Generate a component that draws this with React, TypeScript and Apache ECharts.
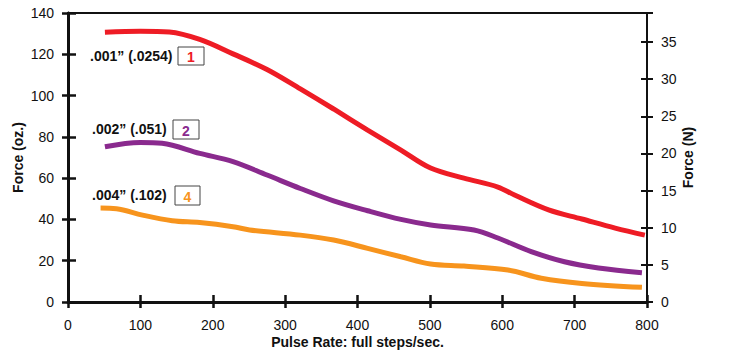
import React, { useEffect, useRef } from "react";
import * as echarts from "echarts";

const xTicks = [0, 100, 200, 300, 400, 500, 600, 700, 800];

const redX = [51, 100, 140, 182, 228, 275, 321, 367, 414, 460, 501, 547, 594, 617, 664, 710, 756, 797];
const redY = [130.7, 131.2, 130.8, 127.2, 120.2, 112.6, 103.2, 93.5, 83.3, 73.6, 64.9, 60, 55.7, 51.8, 44.6, 40.2, 35.8, 32.4];

const purpleX = [51, 100, 130, 182, 228, 275, 321, 367, 414, 460, 501, 561, 594, 640, 686, 733, 793];
const purpleY = [75.2, 77.3, 76.9, 72, 68, 61.5, 55, 49, 44.2, 40, 37.3, 34.9, 31, 24.4, 19.5, 16.5, 14.2];

const orangeX = [45, 67, 103, 144, 182, 228, 251, 321, 367, 414, 460, 501, 547, 608, 654, 710, 793];
const orangeY = [45.5, 45.2, 42.1, 39.4, 38.5, 36.5, 34.9, 32.4, 30, 26, 21.9, 18.4, 17.4, 15.5, 11.5, 9, 7.1];

const labels = [
  { text: ".001\u201D (.0254)", num: "1", color: "#ee1c25" },
  { text: ".002\u201D (.051)", num: "2", color: "#8a2a8e" },
  { text: ".004\u201D (.102)", num: "4", color: "#f7941d" },
];

const OZ_TO_N = 0.27801385;
const FONT = "'Liberation Sans', Arial, Helvetica, sans-serif";

function pairs(xs: number[], ys: number[]) {
  return xs.map((x, i) => [x, ys[i]]);
}

export default function App() {
  const ref = useRef<HTMLDivElement>(null);
  useEffect(() => {
    if (!ref.current) return;
    const chart = echarts.init(ref.current, null, { renderer: "svg" });
    const axisColor = "#111";
    const labelStyle = { color: "#111", fontSize: 14, fontFamily: FONT };
    const nameStyle = { color: "#111", fontSize: 14, fontWeight: "bold" as const, fontFamily: FONT };

    const lineSeries = (data: number[][], color: string) => ({
      type: "line",
      data,
      smooth: 0.35,
      showSymbol: false,
      symbol: "none",
      lineStyle: { color, width: 5, cap: "butt" },
      xAxisIndex: 0,
      yAxisIndex: 0,
      z: 3,
    });

    const labelPos = [
      { tx: 90, ty: 56, bx: 178, by: 47, bw: 26, bh: 18 },
      { tx: 92, ty: 129, bx: 173, by: 120, bw: 26, bh: 19 },
      { tx: 92, ty: 195, bx: 175, by: 186, bw: 25, bh: 19 },
    ];

    const graphics: any[] = [];
    labels.forEach((l, i) => {
      const p = labelPos[i];
      graphics.push({
        type: "text",
        x: p.tx,
        y: p.ty,
        style: {
          text: l.text,
          fill: "#111",
          font: `bold 14px ${FONT}`,
          verticalAlign: "middle",
          align: "left",
        },
      });
      graphics.push({
        type: "rect",
        shape: { x: p.bx, y: p.by, width: p.bw, height: p.bh },
        style: { fill: "#fff", stroke: "#444", lineWidth: 1 },
      });
      graphics.push({
        type: "text",
        x: p.bx + p.bw / 2,
        y: p.by + p.bh / 2 + 1,
        style: {
          text: l.num,
          fill: l.color,
          font: `bold 14px ${FONT}`,
          align: "center",
          verticalAlign: "middle",
        },
      });
    });

    const tickOnly = (len: number, w: number) => ({
      axisLine: { show: false },
      axisTick: { show: true, inside: false, length: len, lineStyle: { color: axisColor, width: w } },
      axisLabel: { show: false },
      splitLine: { show: false },
    });

    chart.setOption({
      animation: false,
      grid: {
        left: 68,
        right: 82,
        top: 13,
        bottom: 56,
        show: true,
        borderColor: axisColor,
        borderWidth: 2,
        backgroundColor: "transparent",
      },
      xAxis: [
        {
          type: "value",
          min: 0,
          max: 800,
          interval: 100,
          position: "bottom",
          axisLine: { show: true, lineStyle: { color: axisColor, width: 3 } },
          axisTick: { show: false },
          axisLabel: { ...labelStyle, margin: 16 },
          splitLine: { show: false },
          name: "Pulse Rate: full steps/sec.",
          nameLocation: "middle",
          nameGap: 33,
          nameMoveOverlap: false,
          nameTextStyle: nameStyle,
        },
        {
          type: "value",
          min: 0,
          max: 800,
          interval: 100,
          position: "bottom",
          offset: -7,
          ...tickOnly(13, 2.5),
        },
      ],
      yAxis: [
        {
          type: "value",
          min: 0,
          max: 140,
          interval: 20,
          position: "left",
          axisLine: { show: true, lineStyle: { color: axisColor, width: 3 } },
          axisTick: { show: false },
          axisLabel: { ...labelStyle, margin: 14 },
          splitLine: { show: false },
          name: "Force (oz.)",
          nameLocation: "middle",
          nameGap: 43,
          nameRotate: 90,
          nameMoveOverlap: false,
          nameTextStyle: nameStyle,
        },
        {
          type: "value",
          min: 0,
          max: 140 * OZ_TO_N,
          interval: 5,
          position: "right",
          axisLine: { show: true, lineStyle: { color: axisColor, width: 2.5 } },
          axisTick: { show: false },
          axisLabel: {
            ...labelStyle,
            margin: 14,
            showMaxLabel: false,
            formatter: (v: number) => (Math.abs(v % 5) < 1e-6 ? String(v) : ""),
          },
          splitLine: { show: false },
          name: "Force (N)",
          nameLocation: "middle",
          nameGap: 34,
          nameRotate: 90,
          nameMoveOverlap: false,
          nameTextStyle: nameStyle,
        },
        {
          type: "value",
          min: 0,
          max: 140,
          interval: 20,
          position: "left",
          offset: -8,
          ...tickOnly(14, 2.5),
        },
        {
          type: "value",
          min: 0,
          max: 140 * OZ_TO_N,
          interval: 5,
          position: "right",
          offset: -6,
          ...tickOnly(12, 2),
          axisLabel: { show: false, showMaxLabel: false },
        },
      ],
      series: [
        lineSeries(pairs(redX, redY), "#ee1c25"),
        lineSeries(pairs(purpleX, purpleY), "#8a2a8e"),
        lineSeries(pairs(orangeX, orangeY), "#f7941d"),
      ],
      graphic: graphics,
    });
    return () => chart.dispose();
  }, []);
  return (
    <div
      ref={ref}
      style={{ position: "fixed", left: 0, top: 0, width: 729, height: 358, background: "#fff" }}
    />
  );
}
